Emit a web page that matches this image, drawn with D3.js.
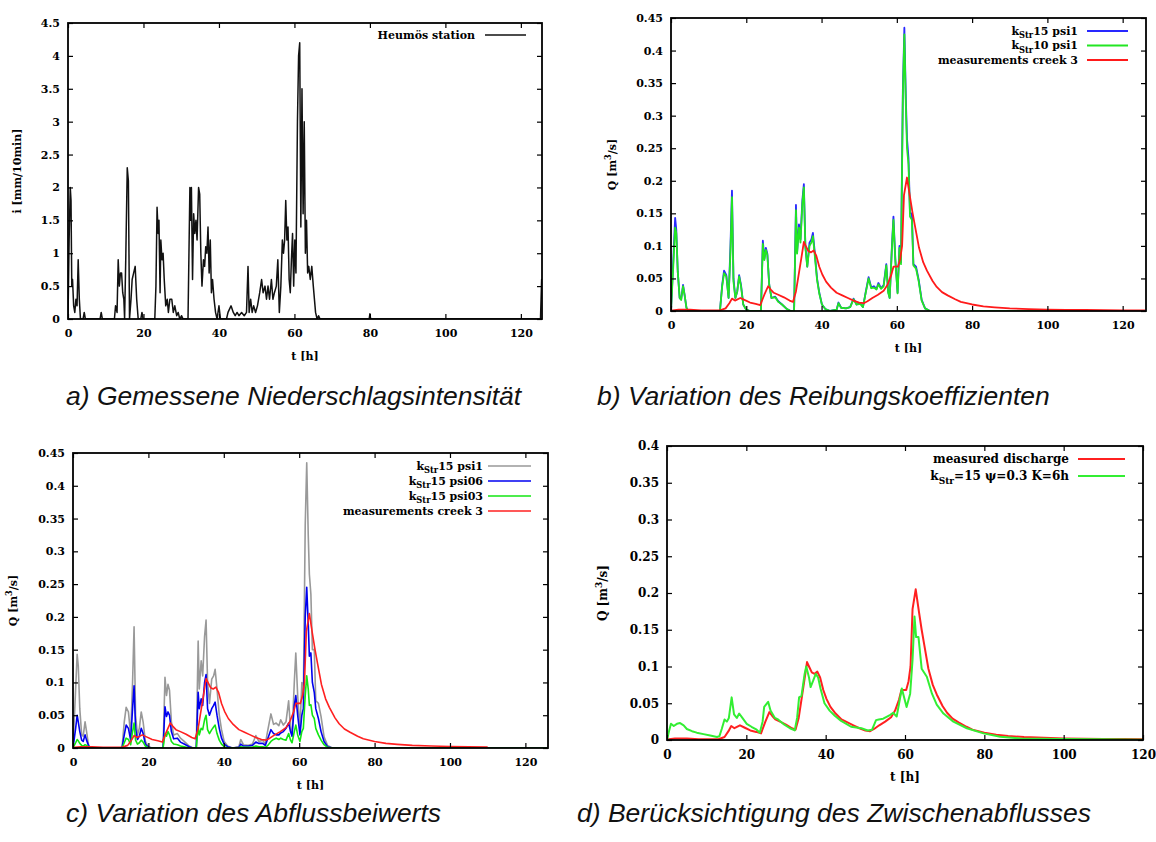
<!DOCTYPE html>
<html>
<head>
<meta charset="utf-8">
<script src="https://cdn.jsdelivr.net/npm/d3@7"></script>
<style>
  body { margin: 0; background: #fff; }
  .caption { font-family: "Liberation Sans", Arial, sans-serif; font-style: italic; font-size: 26.5px; fill: #111; }
</style>
</head>
<body>
<svg id="chart" width="1156" height="842"></svg>
<script>
// tick labels
const xTicks = [0, 20, 40, 60, 80, 100, 120];
const rainTicks = [0, 0.5, 1, 1.5, 2, 2.5, 3, 3.5, 4, 4.5];
const qTicks45 = [0, 0.05, 0.1, 0.15, 0.2, 0.25, 0.3, 0.35, 0.4, 0.45];
const qTicks40 = [0, 0.05, 0.1, 0.15, 0.2, 0.25, 0.3, 0.35, 0.4];

// rain intensity, Heumös station [t h, i mm/10min]
const rain = [
  [0, 0], [0.3, 1.2], [0.6, 2.0], [0.8, 1.8], [1.0, 0.5], [1.2, 0.6], [1.5, 0.2], [1.8, 0.1], [2.1, 0.3],
  [2.4, 0.2], [2.7, 0.9], [3.0, 0.3], [3.3, 0], [4.0, 0], [4.3, 0.1], [4.6, 0], [8.5, 0], [8.8, 0.1], [9.1, 0],
  [12.3, 0], [12.6, 0.2], [13.0, 0.1], [13.3, 0.9], [13.6, 0.5], [13.9, 0.7], [14.2, 0.7], [14.5, 0.4],
  [14.8, 0.3], [15.0, 0], [15.3, 0.9], [15.7, 2.3], [16.0, 2.1], [16.3, 0], [16.7, 0.3], [17.0, 0.6],
  [17.4, 0.7], [17.8, 0.8], [18.2, 0.3], [18.6, 0], [19.3, 0], [19.6, 0.1], [19.9, 0],
  [23.0, 0], [23.3, 0.5], [23.6, 1.7], [23.9, 1.3], [24.1, 1.5], [24.4, 0.4], [24.6, 1.2], [24.9, 0.9],
  [25.2, 1.0], [25.5, 0.6], [25.9, 0.2], [26.3, 0.3], [26.6, 0.1], [27.0, 0.3], [27.5, 0.3], [27.9, 0.1],
  [28.3, 0.2], [28.8, 0.05], [29.2, 0.1], [29.6, 0], [30.1, 0.05], [30.5, 0],
  [31.8, 0], [32.3, 2.0], [32.5, 1.5], [32.7, 2.0], [33.0, 0.6], [33.3, 1.6], [33.6, 1.3], [33.9, 1.5],
  [34.2, 1.2], [34.6, 2.0], [34.9, 1.9], [35.2, 1.0], [35.5, 0.5], [35.9, 0.9], [36.2, 0.8], [36.5, 1.1],
  [36.8, 1.0], [37.1, 1.4], [37.4, 0.7], [37.7, 1.2], [38.0, 0.4], [38.3, 0.6], [38.7, 0.3], [39.1, 0.1],
  [39.5, 0], [40.0, 0.2], [40.4, 0],
  [42.0, 0], [42.4, 0.1], [43.2, 0.2], [43.8, 0.1], [44.3, 0.05], [44.8, 0.1], [45.3, 0.05], [46.0, 0.1],
  [46.7, 0.05], [47.3, 0.1], [47.7, 0.8], [48.0, 0.1], [48.4, 0.3], [48.8, 0.1], [49.2, 0.2], [49.7, 0.1],
  [50.2, 0.2], [50.8, 0.4], [51.3, 0.6], [51.7, 0.4], [52.2, 0.5], [52.6, 0.3], [53.0, 0.5], [53.4, 0.3],
  [53.9, 0.6], [54.3, 0.3], [54.7, 0.4], [55.2, 0.5], [55.6, 0.9], [56.0, 0.1], [56.4, 0.5], [56.8, 1.2],
  [57.1, 1.0], [57.4, 1.2], [57.7, 1.8], [58.0, 1.2], [58.3, 1.4], [58.6, 0.6], [58.9, 0.4], [59.2, 0.9],
  [59.5, 1.3], [59.8, 0.5], [60.1, 1.2], [60.4, 0.7], [60.8, 3.0], [61.1, 4.0], [61.4, 4.2], [61.7, 1.4],
  [62.0, 3.5], [62.3, 1.6], [62.6, 3.0], [62.9, 1.0], [63.2, 1.5], [63.5, 0.7], [63.8, 0.8], [64.2, 0.6],
  [64.6, 0.8], [65.0, 0.5], [65.6, 0.1], [66.0, 0], [66.4, 0.05], [66.8, 0],
  [79.8, 0], [80.0, 0.08], [80.2, 0], [125.2, 0], [125.5, 0.6], [125.7, 0.3]
];

// simulated discharge [m3/s], one shared time axis
const simT = [0, 0.7, 1.1, 1.4, 1.8, 2.3, 2.7, 3.2, 3.6, 4.1, 4.6, 13.0, 13.6, 14.1, 14.7, 15.3, 15.8, 16.2,
  16.6, 17.1, 17.6, 18.1, 18.6, 19.2, 20.0, 21.0, 23.9, 24.4, 24.8, 25.2, 25.6, 26.1, 26.7, 27.7, 28.5, 29.5,
  30.8, 31.8, 32.7, 33.2, 33.5, 34.0, 34.4, 34.9, 35.3, 35.7, 36.2, 36.8, 37.3, 37.7, 38.2, 38.8, 39.4, 40.1,
  41.0, 42.3, 44.0, 44.5, 45.2, 46.5, 47.6, 48.5, 49.3, 50.3, 51.0, 51.7, 52.5, 53.2, 53.9, 54.6, 55.1, 55.8,
  56.5, 57.2, 57.7, 58.1, 58.7, 59.1, 59.6, 60.2, 60.7, 61.1, 61.6, 62.0, 62.4, 62.7, 63.1, 63.5, 64.0, 64.4,
  65.1, 65.8, 66.6, 67.5, 68.8, 126.0];
const k15psi1 = [0, 0.09, 0.143, 0.125, 0.06, 0.02, 0.018, 0.04, 0.025, 0.005, 0, 0, 0.04, 0.062, 0.055, 0.02,
  0.1, 0.185, 0.05, 0.02, 0.03, 0.055, 0.04, 0.01, 0.002, 0, 0, 0.108, 0.08, 0.097, 0.088, 0.04, 0.02, 0.022,
  0.015, 0.01, 0.003, 0, 0, 0.163, 0.09, 0.133, 0.11, 0.17, 0.195, 0.1, 0.068, 0.105, 0.11, 0.12, 0.09, 0.05,
  0.028, 0.01, 0.003, 0, 0.002, 0.013, 0.005, 0.004, 0.006, 0.019, 0.01, 0.012, 0.006, 0.028, 0.052, 0.036,
  0.038, 0.034, 0.043, 0.035, 0.04, 0.072, 0.03, 0.02, 0.1, 0.145, 0.08, 0.028, 0.1, 0.075, 0.34, 0.435,
  0.325, 0.265, 0.235, 0.15, 0.15, 0.072, 0.068, 0.048, 0.017, 0.004, 0, 0];
const k10psi1 = [0, 0.08, 0.128, 0.12, 0.06, 0.02, 0.017, 0.038, 0.025, 0.005, 0, 0, 0.038, 0.058, 0.053, 0.02,
  0.09, 0.175, 0.045, 0.02, 0.03, 0.053, 0.038, 0.01, 0.002, 0, 0, 0.103, 0.078, 0.094, 0.086, 0.04, 0.02, 0.021,
  0.014, 0.01, 0.003, 0, 0, 0.155, 0.088, 0.128, 0.105, 0.165, 0.19, 0.098, 0.068, 0.1, 0.105, 0.115, 0.085,
  0.048, 0.027, 0.01, 0.003, 0, 0.002, 0.012, 0.005, 0.004, 0.006, 0.018, 0.01, 0.011, 0.006, 0.027, 0.05,
  0.035, 0.036, 0.033, 0.041, 0.034, 0.038, 0.07, 0.028, 0.02, 0.097, 0.14, 0.077, 0.027, 0.097, 0.072, 0.33,
  0.425, 0.315, 0.25, 0.225, 0.145, 0.14, 0.07, 0.065, 0.046, 0.016, 0.004, 0, 0];
const k15psi06 = [0, 0.03, 0.05, 0.04, 0.025, 0.012, 0.01, 0.02, 0.012, 0.004, 0, 0, 0.02, 0.035, 0.03, 0.012,
  0.06, 0.095, 0.03, 0.013, 0.018, 0.03, 0.022, 0.006, 0.001, 0, 0, 0.063, 0.048, 0.055, 0.05, 0.025, 0.014,
  0.015, 0.009, 0.006, 0.002, 0, 0, 0.085, 0.06, 0.075, 0.065, 0.1, 0.112, 0.06, 0.05, 0.06, 0.065, 0.07, 0.05,
  0.03, 0.015, 0.006, 0.002, 0, 0.001, 0.006, 0.003, 0.003, 0.004, 0.009, 0.007, 0.007, 0.004, 0.015, 0.028,
  0.022, 0.02, 0.02, 0.023, 0.025, 0.03, 0.038, 0.025, 0.018, 0.065, 0.08, 0.05, 0.02, 0.05, 0.06, 0.2, 0.245,
  0.19, 0.14, 0.145, 0.1, 0.085, 0.06, 0.045, 0.025, 0.01, 0.002, 0, 0];
const k15psi03 = [0, 0.008, 0.013, 0.011, 0.007, 0.004, 0.003, 0.005, 0.004, 0.002, 0, 0, 0.008, 0.015, 0.013,
  0.005, 0.025, 0.038, 0.012, 0.006, 0.008, 0.012, 0.009, 0.003, 0, 0, 0, 0.022, 0.018, 0.025, 0.02, 0.01,
  0.006, 0.005, 0.003, 0.002, 0, 0, 0, 0.033, 0.02, 0.03, 0.028, 0.043, 0.05, 0.028, 0.022, 0.028, 0.032, 0.035,
  0.022, 0.012, 0.006, 0.002, 0, 0, 0, 0.002, 0.001, 0.001, 0.001, 0.003, 0.002, 0.002, 0.001, 0.004, 0.01,
  0.013, 0.015, 0.013, 0.015, 0.013, 0.012, 0.022, 0.012, 0.008, 0.025, 0.035, 0.02, 0.01, 0.025, 0.03, 0.08,
  0.11, 0.09, 0.065, 0.066, 0.05, 0.045, 0.03, 0.02, 0.012, 0.005, 0.001, 0, 0];

// measured discharge, creek 3 [t h, Q m3/s]
const measured = [
  [0, 0], [0.5, 0.001], [2, 0.002], [5, 0.002], [8, 0.001], [13, 0.001], [14.5, 0.004], [15.5, 0.012],
  [16.2, 0.019], [17.0, 0.016], [18.4, 0.02], [19.5, 0.017], [21, 0.013], [22.5, 0.011], [23.7, 0.009],
  [24.8, 0.025], [25.8, 0.038], [26.5, 0.033], [27.3, 0.028], [28.5, 0.025], [30, 0.021], [31.5, 0.016],
  [32.4, 0.014], [33.2, 0.03], [33.9, 0.055], [34.6, 0.08], [35.3, 0.106], [35.8, 0.1], [36.5, 0.092],
  [37.2, 0.09], [37.9, 0.093], [38.6, 0.085], [39.4, 0.068], [40.2, 0.056], [41.2, 0.045], [42.5, 0.036],
  [44, 0.028], [45.5, 0.024], [47, 0.02], [48.5, 0.016], [50, 0.013], [51.2, 0.012], [52.2, 0.015],
  [53.5, 0.02], [55, 0.025], [56.5, 0.031], [57.5, 0.04], [58.5, 0.055], [59.1, 0.068], [60.3, 0.068],
  [60.9, 0.08], [61.4, 0.1], [61.9, 0.178], [62.7, 0.205], [63.5, 0.175], [64.2, 0.15], [64.9, 0.128],
  [65.9, 0.097], [67, 0.075], [68, 0.062], [69.5, 0.046], [70.6, 0.037], [72, 0.029], [73.5, 0.024],
  [75.5, 0.018], [77, 0.014], [80, 0.01], [83, 0.007], [86, 0.0055], [90, 0.004], [95, 0.003], [100, 0.0022],
  [105, 0.0018], [110, 0.0015], [115, 0.0012], [120, 0.001], [126, 0.001]
];

// simulated with interflow, kStr=15 psi=0.3 K=6h
const interflow = [
  [0, 0], [0.5, 0.012], [1.0, 0.022], [1.7, 0.019], [2.5, 0.022], [3.3, 0.023], [4.2, 0.02], [5.0, 0.015],
  [6.3, 0.012], [7.5, 0.01], [9.2, 0.008], [10.9, 0.006], [12.6, 0.004], [13.2, 0.005], [13.8, 0.015],
  [14.5, 0.028], [15.1, 0.025], [15.6, 0.03], [16.3, 0.058], [16.9, 0.035], [17.6, 0.03], [18.2, 0.036],
  [19.0, 0.03], [20.1, 0.022], [21.3, 0.018], [22.6, 0.014], [23.4, 0.01], [24.1, 0.025], [24.5, 0.045],
  [25.5, 0.052], [26.1, 0.04], [27.2, 0.03], [28.0, 0.028], [29.3, 0.022], [31.0, 0.016], [32.2, 0.013],
  [32.8, 0.03], [33.3, 0.058], [33.9, 0.06], [34.7, 0.09], [35.1, 0.1], [35.8, 0.085], [36.2, 0.072],
  [36.8, 0.08], [37.5, 0.09], [38.1, 0.085], [38.7, 0.07], [39.7, 0.05], [41.0, 0.04], [42.3, 0.033],
  [43.9, 0.026], [45.2, 0.022], [46.4, 0.018], [47.7, 0.017], [49.0, 0.016], [50.6, 0.013], [51.7, 0.014],
  [52.7, 0.027], [53.4, 0.028], [54.5, 0.029], [56.2, 0.034], [57.0, 0.037], [57.9, 0.032], [59.2, 0.07],
  [60.4, 0.045], [61.3, 0.063], [61.9, 0.109], [62.4, 0.168], [62.8, 0.14], [63.4, 0.14], [64.2, 0.097],
  [65.5, 0.086], [66.8, 0.063], [68.0, 0.048], [69.7, 0.036], [72.2, 0.025], [75.6, 0.016], [79.8, 0.009],
  [84.0, 0.0045], [89.1, 0.002], [99.2, 0.0015], [110, 0.001], [120, 0.0005]
];

const pairs = vals => simT.map((t, i) => [t, vals[i]]);

const svg = d3.select('#chart');
const serif = '"DejaVu Serif", serif';

// gnuplot style enhanced text: _{sub} and ^{sup}
function enhanced(text, str, size) {
  const re = /([_^])\{([^}]*)\}|([^_^]+)/g;
  let m, shift = 0;
  while ((m = re.exec(str))) {
    if (m[3]) {
      text.append('tspan').attr('dy', -shift).text(m[3]);
      shift = 0;
    } else {
      const d = m[1] === '_' ? size * 0.32 : -size * 0.45;
      text.append('tspan').attr('dy', d).attr('font-size', size * 0.75).text(m[2]);
      shift = d;
    }
  }
}

function drawPanel(p) {
  const x = d3.scaleLinear().domain([0, p.xMax]).range([p.left, p.right]);
  const y = d3.scaleLinear().domain([0, p.yMax]).range([p.bottom, p.top]);
  const g = svg.append('g');

  g.append('clipPath').attr('id', 'clip-' + p.id)
    .append('rect')
    .attr('x', p.left).attr('y', p.top)
    .attr('width', p.right - p.left).attr('height', p.bottom - p.top);

  const line = d3.line().x(d => x(d[0])).y(d => y(d[1]));
  p.series.forEach(s => {
    g.append('path')
      .datum(s.data)
      .attr('d', line)
      .attr('fill', 'none')
      .attr('stroke', s.color)
      .attr('stroke-width', p.lineWidth)
      .attr('stroke-linejoin', 'round')
      .attr('clip-path', `url(#clip-${p.id})`);
  });

  const style = sel => {
    sel.attr('font-family', serif).attr('font-size', p.fontSize).attr('font-weight', 'bold');
    sel.select('.domain').remove();
    sel.selectAll('.tick line').attr('stroke-width', 1.2);
    sel.selectAll('.tick text').attr('fill', '#000');
  };
  g.append('g').attr('transform', `translate(0,${p.bottom})`)
    .call(d3.axisBottom(x).tickValues(xTicks).tickSize(-5).tickPadding(10).tickFormat(d => d))
    .call(style);
  g.append('g').attr('transform', `translate(0,${p.top})`)
    .call(d3.axisTop(x).tickValues(xTicks).tickSize(-5).tickFormat(''))
    .call(style);
  g.append('g').attr('transform', `translate(${p.left},0)`)
    .call(d3.axisLeft(y).tickValues(p.yTicks).tickSize(-5).tickPadding(8).tickFormat(d => d))
    .call(style);
  g.append('g').attr('transform', `translate(${p.right},0)`)
    .call(d3.axisRight(y).tickValues(p.yTicks).tickSize(-5).tickFormat(''))
    .call(style);

  g.append('rect')
    .attr('x', p.left).attr('y', p.top)
    .attr('width', p.right - p.left).attr('height', p.bottom - p.top)
    .attr('fill', 'none').attr('stroke', '#000').attr('stroke-width', 1.8);

  // axis titles
  g.append('text')
    .attr('x', (p.left + p.right) / 2).attr('y', p.bottom + 41)
    .attr('text-anchor', 'middle')
    .attr('font-family', serif).attr('font-size', p.fontSize).attr('font-weight', 'bold')
    .text('t [h]');
  const yl = g.append('text')
    .attr('transform', `translate(${p.yLabelX},${(p.top + p.bottom) / 2}) rotate(-90)`)
    .attr('text-anchor', 'middle')
    .attr('font-family', serif).attr('font-size', p.fontSize).attr('font-weight', 'bold');
  enhanced(yl, p.yLabel, p.fontSize);

  // key
  const k = p.key;
  p.series.forEach((s, i) => {
    const ry = k.y + i * k.step;
    const t = g.append('text')
      .attr('x', k.textRight).attr('y', ry + p.fontSize * 0.35)
      .attr('text-anchor', 'end')
      .attr('font-family', serif).attr('font-size', p.fontSize).attr('font-weight', 'bold');
    enhanced(t, s.label, p.fontSize);
    g.append('line')
      .attr('x1', k.x1).attr('x2', k.x2).attr('y1', ry).attr('y2', ry)
      .attr('stroke', s.color).attr('stroke-width', p.lineWidth);
  });

  g.append('text').attr('class', 'caption')
    .attr('x', p.capX).attr('y', p.capY)
    .text(p.caption);
}

const panels = [
  {
    id: 'a', left: 68, right: 542, top: 23, bottom: 319, xMax: 125.6, yMax: 4.5, yTicks: rainTicks,
    yLabel: 'i [mm/10min]', yLabelX: 21, fontSize: 11, lineWidth: 1.5,
    series: [{ label: 'Heumös station', color: '#111', data: rain }],
    key: { textRight: 475, x1: 485, x2: 526, y: 35, step: 15 },
    caption: 'a) Gemessene Niederschlagsintensität', capX: 66, capY: 405
  },
  {
    id: 'b', left: 671, right: 1146, top: 18, bottom: 311, xMax: 126.2, yMax: 0.45, yTicks: qTicks45,
    yLabel: 'Q [m^{3}/s]', yLabelX: 616, fontSize: 11, lineWidth: 1.8,
    series: [
      { label: 'k_{Str}15 psi1', color: '#2828ff', data: pairs(k15psi1) },
      { label: 'k_{Str}10 psi1', color: '#22e622', data: pairs(k10psi1) },
      { label: 'measurements creek 3', color: '#ff1a1a', data: measured }
    ],
    key: { textRight: 1078, x1: 1087, x2: 1128, y: 31, step: 14.5 },
    caption: 'b) Variation des Reibungskoeffizienten', capX: 597, capY: 405
  },
  {
    id: 'c', left: 73, right: 548, top: 453, bottom: 748, xMax: 126, yMax: 0.45, yTicks: qTicks45,
    yLabel: 'Q [m^{3}/s]', yLabelX: 17, fontSize: 11, lineWidth: 1.6,
    series: [
      { label: 'k_{Str}15 psi1', color: '#999999', data: pairs(k15psi1) },
      { label: 'k_{Str}15 psi06', color: '#0000f0', data: pairs(k15psi06) },
      { label: 'k_{Str}15 psi03', color: '#12e612', data: pairs(k15psi03) },
      { label: 'measurements creek 3', color: '#ff2020', data: measured.filter(d => d[0] <= 111) }
    ],
    key: { textRight: 483, x1: 488, x2: 531, y: 466, step: 15 },
    caption: 'c) Variation des Abflussbeiwerts', capX: 66, capY: 822
  },
  {
    id: 'd', left: 667, right: 1143, top: 446, bottom: 740, xMax: 120, yMax: 0.4, yTicks: qTicks40,
    yLabel: 'Q [m^{3}/s]', yLabelX: 607, fontSize: 12, lineWidth: 2,
    series: [
      { label: 'measured discharge', color: '#ff2020', data: measured },
      { label: 'k_{Str}=15 ψ=0.3 K=6h', color: '#33ee33', data: interflow }
    ],
    key: { textRight: 1069, x1: 1078, x2: 1125, y: 459, step: 17 },
    caption: 'd) Berücksichtigung des Zwischenabflusses', capX: 577, capY: 822
  }
];

panels.forEach(drawPanel);
</script>
</body>
</html>
